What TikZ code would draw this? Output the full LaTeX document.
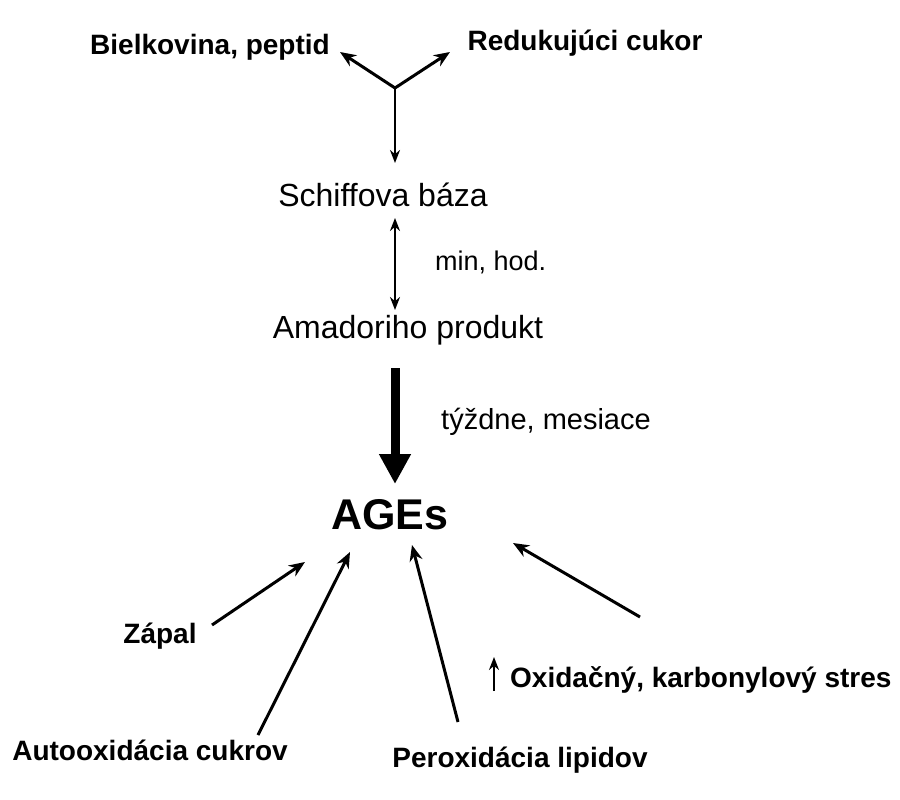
\documentclass[tikz,border=0pt]{standalone}
\usepackage{fontspec}
\setmainfont{Liberation Sans}
\usetikzlibrary{arrows.meta}
\begin{document}
\begin{tikzpicture}[x=1pt,y=-1pt,
  lbl/.style={font=\fontsize{28}{32}\selectfont\bfseries, inner sep=0pt},
  reg/.style={font=\fontsize{32}{36}\selectfont, inner sep=0pt},
  arr/.style={draw, line width=3pt, -{Stealth[length=16pt,width=13pt]}},
  thin/.style={draw, line width=2pt, -{Stealth[length=13pt,width=10pt]}}]
\useasboundingbox (0,0) rectangle (900,800);
\node[lbl] (bp) at (210,47) {Bielkovina, peptid};
\node[lbl] (rc) at (585,43) {Redukujúci cukor};
\coordinate (j) at (395,88);
\coordinate (e1) at (340,52);
\coordinate (e2) at (450,52);
\draw[arr] (j) -- (e1);
\draw[arr] (j) -- (e2);
\node[reg] (sb) at (383,195) {Schiffova báza};
\draw[thin] (j) -- (395,163);
\node[reg] (am) at (408,330) {Amadoriho produkt};
\draw[thin, {Stealth[length=13pt,width=10pt]}-{Stealth[length=13pt,width=10pt]}] (395,218) -- (395,310);
\node[reg, font=\fontsize{27}{31}\selectfont, anchor=west] (mh) at (435,262) {min, hod.};
\node[font=\fontsize{43}{48}\selectfont\bfseries, inner sep=0pt] (ag) at (390,515) {AGEs};
\draw[line width=9pt, -{Triangle[length=30pt,width=30pt]}] (395,368) -- (395,484);
\node[reg, font=\fontsize{29}{33}\selectfont] (tm) at (546,422) {týždne, mesiace};
\node[lbl] (za) at (160,636) {Zápal};
\node[lbl] (au) at (150,750) {Autooxidácia cukrov};
\node[lbl] (pe) at (520,760) {Peroxidácia lipidov};
\node[lbl, anchor=west] (ox) at (510,680) {Oxidačný, karbonylový stres};
\coordinate (za1) at (212,625); \coordinate (za2) at (305,562);
\coordinate (au1) at (258,735); \coordinate (au2) at (350,552);
\coordinate (pe1) at (458,722); \coordinate (pe2) at (412,545);
\coordinate (ox1) at (640,617); \coordinate (ox2) at (513,543);
\draw[arr] (za1) -- (za2);
\draw[arr] (au1) -- (au2);
\draw[arr] (pe1) -- (pe2);
\draw[arr] (ox1) -- (ox2);
\coordinate (u1) at (494,691); \coordinate (u2) at (494,657);
\draw[thin] (u1) -- (u2);
\end{tikzpicture}
\end{document}
